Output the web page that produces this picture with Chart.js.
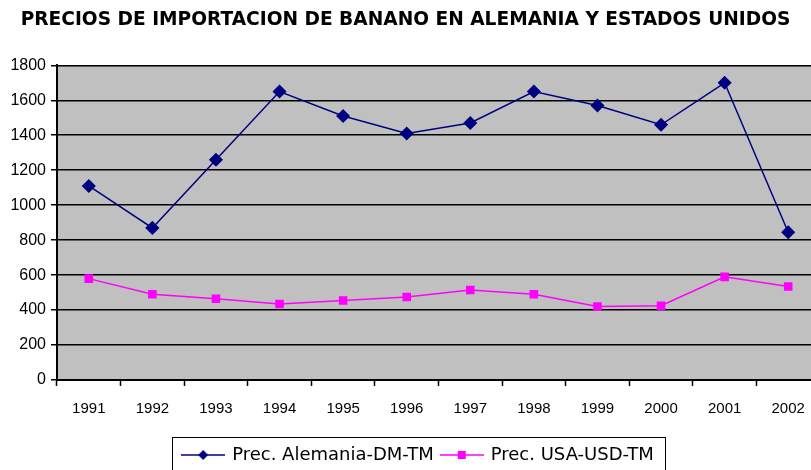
<!DOCTYPE html>
<html>
<head>
<meta charset="utf-8">
<script src="https://cdn.jsdelivr.net/npm/chart.js@4"></script>
<style>
  html, body { margin: 0; padding: 0; background: #fff; }
  #wrap { width: 811px; height: 470px; }
</style>
</head>
<body>
<div id="wrap"><canvas id="chart" width="811" height="470"></canvas></div>
<script>
// Data
const years = ['1991', '1992', '1993', '1994', '1995', '1996', '1997', '1998', '1999', '2000', '2001', '2002'];
const germanyPrices = [1110, 870, 1260, 1650, 1510, 1410, 1470, 1650, 1570, 1460, 1700, 845];
const usaPrices = [580, 490, 465, 435, 455, 475, 515, 490, 420, 425, 590, 535];
const yTicks = [0, 200, 400, 600, 800, 1000, 1200, 1400, 1600, 1800];

const NAVY = '#000080';
const PINK = '#ff00ff';

// legend icon: short line with marker in the middle
function legendIcon(color, shape) {
    const c = document.createElement('canvas');
    c.width = 44; c.height = 14;
    const g = c.getContext('2d');
    g.strokeStyle = color;
    g.lineWidth = 1.5;
    g.beginPath();
    g.moveTo(0, 7); g.lineTo(44, 7);
    g.stroke();
    g.fillStyle = color;
    if (shape === 'diamond') {
        g.beginPath();
        g.moveTo(22, 2); g.lineTo(27, 7); g.lineTo(22, 12); g.lineTo(17, 7);
        g.closePath(); g.fill();
    } else {
        g.fillRect(18, 3, 8, 8);
    }
    return c;
}

// shift the legend a bit right / down like the original
const LEGEND_DX = 13, LEGEND_DY = 4;
// the original plot runs past the right edge of the picture
const PLOT_OVERFLOW = 9;

// gray plot background + legend frame
const decor = {
    id: 'decor',
    afterLayout(chart) {
        const lg = chart.legend;
        lg.left += LEGEND_DX; lg.right += LEGEND_DX;
        lg.top += LEGEND_DY; lg.bottom += LEGEND_DY;
        (lg.legendHitBoxes || []).forEach(b => { b.left += LEGEND_DX; b.top += LEGEND_DY; });

        const a = chart.chartArea;
        a.right += PLOT_OVERFLOW; a.width += PLOT_OVERFLOW;
        const xs = chart.scales.x;
        xs.right += PLOT_OVERFLOW; xs.width += PLOT_OVERFLOW;
        xs.configure();
    },
    beforeDraw(chart) {
        const a = chart.chartArea, ctx = chart.ctx;
        ctx.save();
        ctx.fillStyle = '#c0c0c0';
        ctx.fillRect(a.left, a.top, a.right - a.left, a.bottom - a.top);
        ctx.strokeStyle = '#808080';
        ctx.lineWidth = 1;
        ctx.beginPath();
        ctx.moveTo(a.left, a.top + 0.5);
        ctx.lineTo(a.right, a.top + 0.5);
        ctx.stroke();
        ctx.restore();
    },
    afterDraw(chart) {
        const boxes = chart.legend.legendHitBoxes;
        if (!boxes || !boxes.length) return;
        const ctx = chart.ctx;
        const left = Math.min(...boxes.map(b => b.left)) - 11;
        const right = Math.max(...boxes.map(b => b.left + b.width)) + 11;
        const top = chart.legend.top - 1;
        ctx.save();
        ctx.strokeStyle = '#000';
        ctx.lineWidth = 1;
        ctx.strokeRect(Math.round(left) + 0.5, top + 0.5, Math.round(right - left), 60);
        ctx.restore();
    }
};

new Chart(document.getElementById('chart'), {
    type: 'line',
    data: {
        labels: years,
        datasets: [{
            label: 'Prec. Alemania-DM-TM',
            data: germanyPrices,
            borderColor: NAVY,
            backgroundColor: NAVY,
            borderWidth: 1.5,
            pointStyle: 'rectRot',
            pointRadius: 6,
            pointHoverRadius: 6,
            tension: 0
        }, {
            label: 'Prec. USA-USD-TM',
            data: usaPrices,
            borderColor: PINK,
            backgroundColor: PINK,
            borderWidth: 1.5,
            pointStyle: 'rect',
            pointRadius: 5,
            pointHoverRadius: 5,
            tension: 0
        }]
    },
    options: {
        responsive: false,
        animation: false,
        layout: { padding: 0, autoPadding: false },
        plugins: {
            title: {
                display: true,
                text: 'PRECIOS DE IMPORTACION DE BANANO EN ALEMANIA Y ESTADOS UNIDOS',
                color: '#000',
                font: { family: 'DejaVu Sans', size: 18.6, weight: 'bold' },
                padding: { top: 9, bottom: 34 }
            },
            legend: {
                position: 'bottom',
                labels: {
                    color: '#000',
                    font: { family: 'DejaVu Sans', size: 18 },
                    usePointStyle: true,
                    pointStyleWidth: 40,
                    boxHeight: 14,
                    padding: 8,
                    generateLabels(chart) {
                        return chart.data.datasets.map((ds, i) => ({
                            text: ds.label,
                            pointStyle: legendIcon(ds.borderColor, i === 0 ? 'diamond' : 'square'),
                            fillStyle: ds.borderColor,
                            strokeStyle: ds.borderColor,
                            lineWidth: 0,
                            fontColor: '#000',
                            datasetIndex: i
                        }));
                    }
                }
            },
            tooltip: { enabled: false }
        },
        scales: {
            x: {
                offset: true,
                grid: {
                    display: true,
                    offset: true,
                    drawOnChartArea: false,
                    color: '#000',
                    tickLength: 6,
                    tickWidth: 1.5
                },
                border: { color: '#000', width: 2 },
                ticks: {
                    color: '#000',
                    font: { family: 'Liberation Sans, Arial', size: 15 },
                    padding: 14,
                    maxRotation: 0,
                    autoSkip: false
                },
                afterFit(scale) {
                    scale.height = 54;
                    scale.paddingLeft = 0;
                    scale.paddingRight = 0;
                }
            },
            y: {
                min: 0,
                max: 1800,
                afterBuildTicks(scale) { scale.ticks = yTicks.map(v => ({ value: v })); },
                grid: {
                    color: '#000',
                    lineWidth: 1.5,
                    tickLength: 6,
                    drawTicks: true
                },
                border: { color: '#000', width: 2 },
                ticks: {
                    color: '#000',
                    font: { family: 'Liberation Sans, Arial', size: 16 },
                    padding: 5,
                    callback: v => String(v)
                },
                afterFit(scale) { scale.width = 57; }
            }
        }
    },
    plugins: [decor]
});
</script>
</body>
</html>
